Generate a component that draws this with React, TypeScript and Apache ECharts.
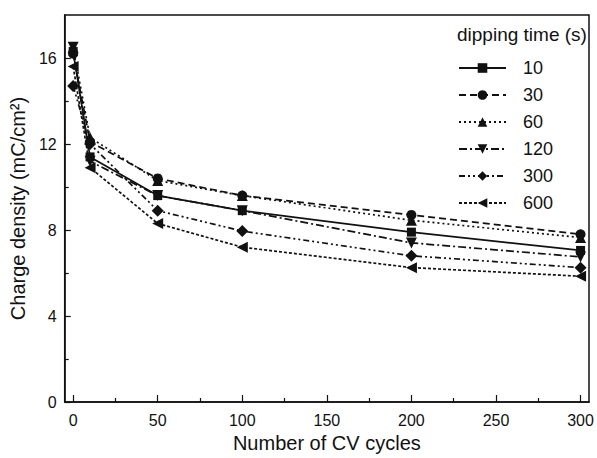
import React, { useEffect, useRef } from "react";
import * as echarts from "echarts";

const cycles = [0, 10, 50, 100, 200, 300];
const t10 = [16.3, 11.4, 9.6, 8.9, 7.9, 7.05];
const t30 = [16.2, 12.1, 10.4, 9.6, 8.7, 7.8];
const t60 = [16.5, 12.3, 10.3, 9.6, 8.45, 7.65];
const t120 = [16.5, 11.2, 9.6, 8.9, 7.4, 6.75];
const t300 = [14.7, 12.0, 8.9, 7.95, 6.8, 6.25];
const t600 = [15.6, 10.9, 8.3, 7.2, 6.25, 5.85];

const xMajor = [0, 50, 100, 150, 200, 250, 300];
const xMinor = [25, 75, 125, 175, 225, 275];
const yMajor = [0, 4, 8, 12, 16];
const yMinor = [2, 6, 10, 14];

const FONT = "'Liberation Sans', Arial, sans-serif";
const INK = "#111";

const seriesDefs = [
  { name: "10", data: t10, symbol: "rect", size: 9, rotate: 0, dash: "solid" as any },
  { name: "30", data: t30, symbol: "circle", size: 10, rotate: 0, dash: [7, 4] },
  { name: "60", data: t60, symbol: "triangle", size: 11, rotate: 0, dash: [2, 3] },
  { name: "120", data: t120, symbol: "triangle", size: 11, rotate: 180, dash: [8, 3, 2, 3] },
  { name: "300", data: t300, symbol: "diamond", size: 12, rotate: 0, dash: [6, 3, 2, 3, 2, 3] },
  { name: "600", data: t600, symbol: "triangle", size: 11, rotate: 90, dash: [3, 2] },
];

export default function App() {
  const ref = useRef<HTMLDivElement>(null);
  useEffect(() => {
    document.body.style.margin = "0";
    if (!ref.current) return;
    const chart = echarts.init(ref.current, undefined, { renderer: "svg" });
    const axisLineStyle = { color: INK, width: 1.5 };
    chart.setOption({
      animation: false,
      backgroundColor: "#fff",
      textStyle: { fontFamily: FONT, color: INK },
      grid: {
        left: 64,
        right: 8,
        top: 15,
        bottom: 56,
        show: true,
        borderColor: INK,
        borderWidth: 1.5,
        backgroundColor: "transparent",
      },
      graphic: [
        {
          type: "text",
          left: 457,
          top: 25,
          style: { text: "dipping time (s)", font: `19px ${FONT}`, fill: INK },
        },
      ],
      legend: {
        orient: "vertical",
        left: 453,
        top: 54,
        itemWidth: 47,
        itemHeight: 12,
        itemGap: 9,
        data: seriesDefs.map((s) => s.name),
        textStyle: {
          fontSize: 18,
          lineHeight: 18,
          color: INK,
          fontFamily: FONT,
          padding: [0, 0, 0, 12],
        },
      },
      xAxis: [
        {
          type: "value",
          min: -5,
          max: 305,
          position: "bottom",
          axisLine: { show: true, onZero: false, lineStyle: axisLineStyle },
          axisTick: {
            show: true,
            inside: true,
            length: 7,
            customValues: xMajor,
            lineStyle: { color: INK, width: 1.2 },
          },
          axisLabel: {
            customValues: xMajor,
            fontSize: 16,
            color: INK,
            fontFamily: FONT,
            margin: 10,
          },
          splitLine: { show: false },
          name: "Number of CV cycles",
          nameLocation: "middle",
          nameGap: 30,
          nameTextStyle: { fontSize: 20, color: INK, fontFamily: FONT },
        },
        {
          type: "value",
          min: -5,
          max: 305,
          position: "bottom",
          axisLine: { show: false, onZero: false },
          axisTick: {
            show: true,
            inside: true,
            length: 4,
            customValues: xMinor,
            lineStyle: { color: INK, width: 1.2 },
          },
          axisLabel: { show: false },
          splitLine: { show: false },
        },
      ],
      yAxis: [
        {
          type: "value",
          min: 0,
          max: 18,
          position: "left",
          axisLine: { show: true, onZero: false, lineStyle: axisLineStyle },
          axisTick: {
            show: true,
            inside: true,
            length: 6,
            customValues: yMajor,
            lineStyle: { color: INK, width: 1.2 },
          },
          axisLabel: {
            customValues: yMajor,
            fontSize: 16,
            color: INK,
            fontFamily: FONT,
            margin: 8,
          },
          splitLine: { show: false },
          name: "Charge density (mC/cm²)",
          nameLocation: "middle",
          nameGap: 28,
          nameTextStyle: { fontSize: 20, color: INK, fontFamily: FONT },
        },
        {
          type: "value",
          min: 0,
          max: 18,
          position: "left",
          axisLine: { show: false, onZero: false },
          axisTick: {
            show: true,
            inside: true,
            length: 4,
            customValues: yMinor,
            lineStyle: { color: INK, width: 1.2 },
          },
          axisLabel: { show: false },
          splitLine: { show: false },
        },
      ],
      series: seriesDefs.map((s) => ({
        name: s.name,
        type: "line",
        xAxisIndex: 0,
        yAxisIndex: 0,
        data: cycles.map((c, i) => [c, s.data[i]]),
        symbol: s.symbol,
        symbolSize: s.size,
        symbolRotate: s.rotate,
        showSymbol: true,
        color: INK,
        itemStyle: { color: INK },
        lineStyle: { color: INK, width: 1.7, type: s.dash },
        emphasis: { disabled: true },
      })),
    });
    return () => chart.dispose();
  }, []);
  return <div ref={ref} style={{ width: 597, height: 458 }} />;
}
